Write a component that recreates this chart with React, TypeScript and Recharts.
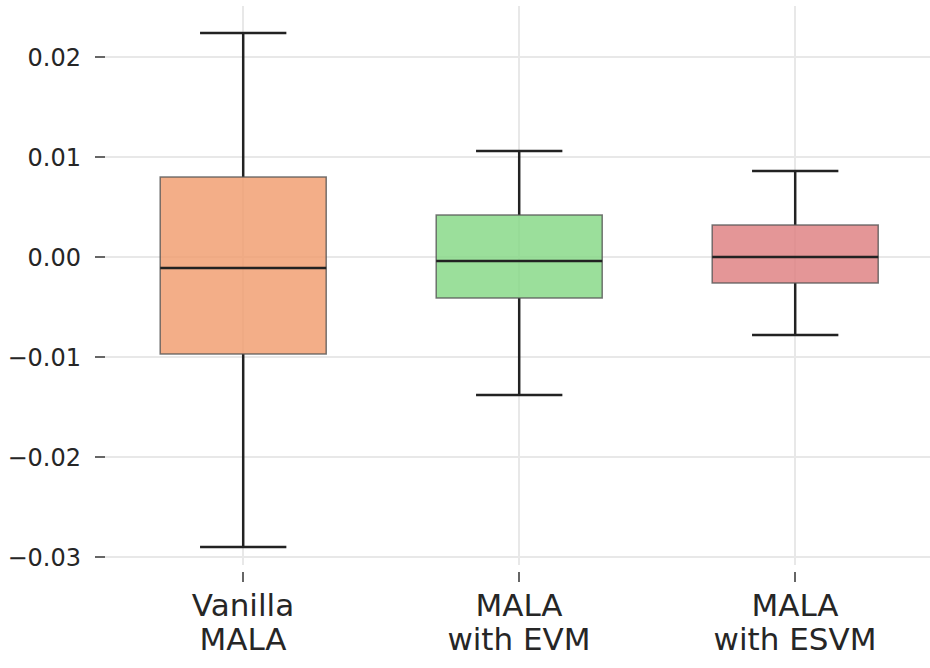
import { ComposedChart, Bar, XAxis, YAxis, CartesianGrid } from 'recharts'

const categories = ['Vanilla\nMALA', 'MALA\nwith EVM', 'MALA\nwith ESVM']
const whiskerLow = [-0.029, -0.0138, -0.0078]
const q1 = [-0.0097, -0.0041, -0.0026]
const median = [-0.0011, -0.0004, 0.0]
const q3 = [0.008, 0.0042, 0.0032]
const whiskerHigh = [0.0224, 0.0106, 0.0086]
const yTicks = [-0.03, -0.02, -0.01, 0, 0.01, 0.02]
const boxColors = ['#f09a6a', '#82d782', '#dd7c7d']

const data = categories.map((name, i) => ({
	name,
	low: whiskerLow[i],
	q1: q1[i],
	median: median[i],
	q3: q3[i],
	high: whiskerHigh[i],
	color: boxColors[i],
}))

const BoxShape = (props: any) => {
	const { x, y, width, height, payload } = props
	const { low, high } = payload
	const py = (v: number) => y + ((high - v) / (high - low)) * height
	const cx = x + width / 2
	const cap = width * 0.26
	const ink = '#222'
	return (
		<g>
			<line x1={cx} x2={cx} y1={py(high)} y2={py(payload.q3)} stroke={ink} strokeWidth={2.5} />
			<line x1={cx} x2={cx} y1={py(payload.q1)} y2={py(low)} stroke={ink} strokeWidth={2.5} />
			<line x1={cx - cap} x2={cx + cap} y1={py(high)} y2={py(high)} stroke={ink} strokeWidth={2.5} />
			<line x1={cx - cap} x2={cx + cap} y1={py(low)} y2={py(low)} stroke={ink} strokeWidth={2.5} />
			<rect
				x={x}
				y={py(payload.q3)}
				width={width}
				height={py(payload.q1) - py(payload.q3)}
				fill={payload.color}
				fillOpacity={0.8}
				stroke='#555'
				strokeOpacity={0.8}
				strokeWidth={1.5}
			/>
			<line x1={x} x2={x + width} y1={py(payload.median)} y2={py(payload.median)} stroke={ink} strokeWidth={2.5} />
		</g>
	)
}

const XTick = (props: any) => {
	const { x, y, payload } = props
	const lines = String(payload.value).split('\n')
	return (
		<g>
			<line x1={x} x2={x} y1={y + 7} y2={y + 17} stroke='#333' strokeWidth={1.5} />
			<text x={x} textAnchor='middle' fill='#262626' fontSize={31} fontFamily='DejaVu Sans'>
				{lines.map((l, i) => (
					<tspan key={i} x={x} y={y + 51 + i * 34}>
						{l}
					</tspan>
				))}
			</text>
		</g>
	)
}

const fmt = (v: number) => v.toFixed(2).replace('-', '\u2212')

export default function App() {
	return (
		<div style={{ position: 'absolute', left: 0, top: 0, width: 930, height: 668, overflow: 'hidden', background: '#fff' }}>
			<ComposedChart width={933} height={668} data={data} margin={{ top: 6, right: 0, bottom: 0, left: 0 }} barCategoryGap='20%'>
				{/* syncWithTicks: grid only at ticks, no frame lines */}
				<CartesianGrid stroke='#e8e8e8' strokeWidth={2} syncWithTicks />
				<XAxis dataKey='name' height={103} axisLine={false} tickLine={false} tickSize={0} tickMargin={0} tick={<XTick />} interval={0} />
				<YAxis
					type='number'
					domain={[-0.0308, 0.0251]}
					allowDataOverflow
					ticks={yTicks}
					tickFormatter={fmt}
					width={105}
					axisLine={false}
					tickSize={10}
					tickMargin={14}
					tickLine={{ stroke: '#333', strokeWidth: 1.5 }}
					tick={{ fill: '#262626', fontSize: 24, fontFamily: 'DejaVu Sans' }}
				/>
				<Bar dataKey={(d: any) => [d.low, d.high]} shape={<BoxShape />} isAnimationActive={false} />
			</ComposedChart>
		</div>
	)
}
